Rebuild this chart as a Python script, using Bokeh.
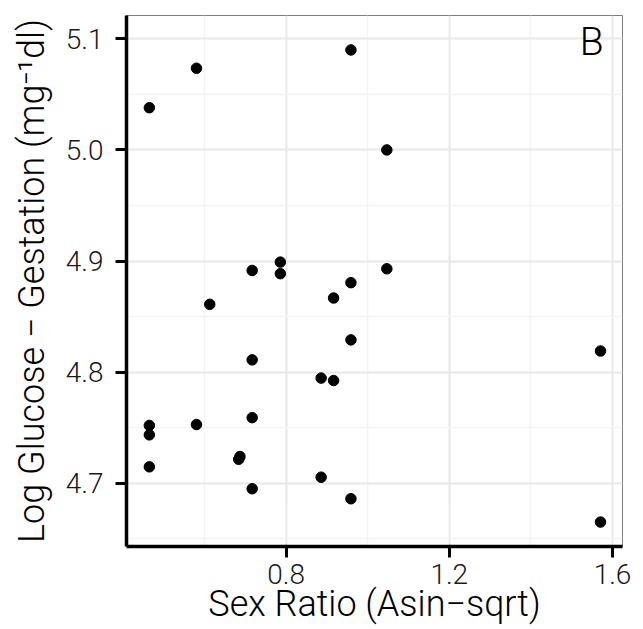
from bokeh.plotting import figure
from bokeh.models import FixedTicker, Label, ColumnDataSource, Range1d, PrintfTickFormatter
from bokeh.embed import file_html
from bokeh.resources import INLINE

# ---- data ----
sex_ratio = [0.465, 0.5805, 0.959, 1.047, 0.717, 0.786, 0.786, 0.613, 0.717,
             1.047, 0.959, 0.9165, 0.959, 0.886, 0.9165, 0.465, 0.465, 0.465,
             0.5805, 0.717, 0.684, 0.687, 0.717, 0.886, 0.959, 1.5706, 1.5706]
log_glucose = [5.038, 5.0735, 5.090, 5.000, 4.8915, 4.899, 4.8886, 4.861, 4.811,
               4.893, 4.8805, 4.8667, 4.829, 4.7946, 4.7924, 4.752, 4.7435, 4.7147,
               4.7528, 4.759, 4.7215, 4.7240, 4.695, 4.7054, 4.686, 4.819, 4.665]

x_major = [0.8, 1.2, 1.6]
x_minor = [0.6, 1.0, 1.4]
y_major = [4.7, 4.8, 4.9, 5.0, 5.1]
y_minor = [4.65, 4.75, 4.85, 4.95, 5.05]
x_range = (0.409, 1.6245)
y_range = (4.643, 5.121)

x_title = "Sex Ratio (Asin\u2212sqrt)"
y_title = "Log Glucose \u2212 Gestation (mg\u207b\u00b9dl)"
panel_tag = "B"

FONT = "Roboto Light"

src = ColumnDataSource(dict(x=sex_ratio, y=log_glucose))

p = figure(width=640, height=627, output_backend="svg", toolbar_location=None,
           x_range=Range1d(*x_range), y_range=Range1d(*y_range),
           min_border_left=126, min_border_right=18, min_border_top=15,
           min_border_bottom=81)
p.background_fill_color = "white"
p.border_fill_color = "white"
p.outline_line_color = "#7F7F7F"
p.outline_line_width = 1

p.scatter("x", "y", source=src, size=10.5, color="black", line_color="black")

p.xaxis.ticker = FixedTicker(ticks=x_major, minor_ticks=x_minor)
p.yaxis.ticker = FixedTicker(ticks=y_major, minor_ticks=y_minor)
p.xaxis.formatter = PrintfTickFormatter(format="%.1f")
p.yaxis.formatter = PrintfTickFormatter(format="%.1f")

for ax in (p.xaxis[0], p.yaxis[0]):
    ax.axis_line_color = "black"
    ax.axis_line_width = 3.5
    ax.major_tick_line_color = "black"
    ax.major_tick_line_width = 3
    ax.major_tick_out = 11
    ax.major_tick_in = 0
    ax.minor_tick_line_color = None
    ax.major_label_text_font = FONT
    ax.major_label_text_font_size = "28px"
    ax.major_label_text_color = "#1a1a1a"
    ax.axis_label_text_font = FONT
    ax.axis_label_text_font_size = "36px"
    ax.axis_label_text_font_style = "normal"
    ax.axis_label_text_color = "black"

p.xaxis.axis_label = x_title
p.yaxis.axis_label = y_title
p.xaxis.major_label_standoff = 6
p.yaxis.major_label_standoff = 12
p.xaxis.axis_label_standoff = -4
p.yaxis.axis_label_standoff = 10

for g in (p.xgrid[0], p.ygrid[0]):
    g.grid_line_color = "#E8E8E8"
    g.grid_line_width = 2
    g.minor_grid_line_color = "#F4F4F4"
    g.minor_grid_line_width = 1.5

tag = Label(x=1.549, y=5.0967, text=panel_tag, text_align="center",
            text_baseline="middle", text_font=FONT, text_font_size="39px",
            text_color="black")
p.add_layout(tag)

open("out.html", "w").write(file_html(p, INLINE))
